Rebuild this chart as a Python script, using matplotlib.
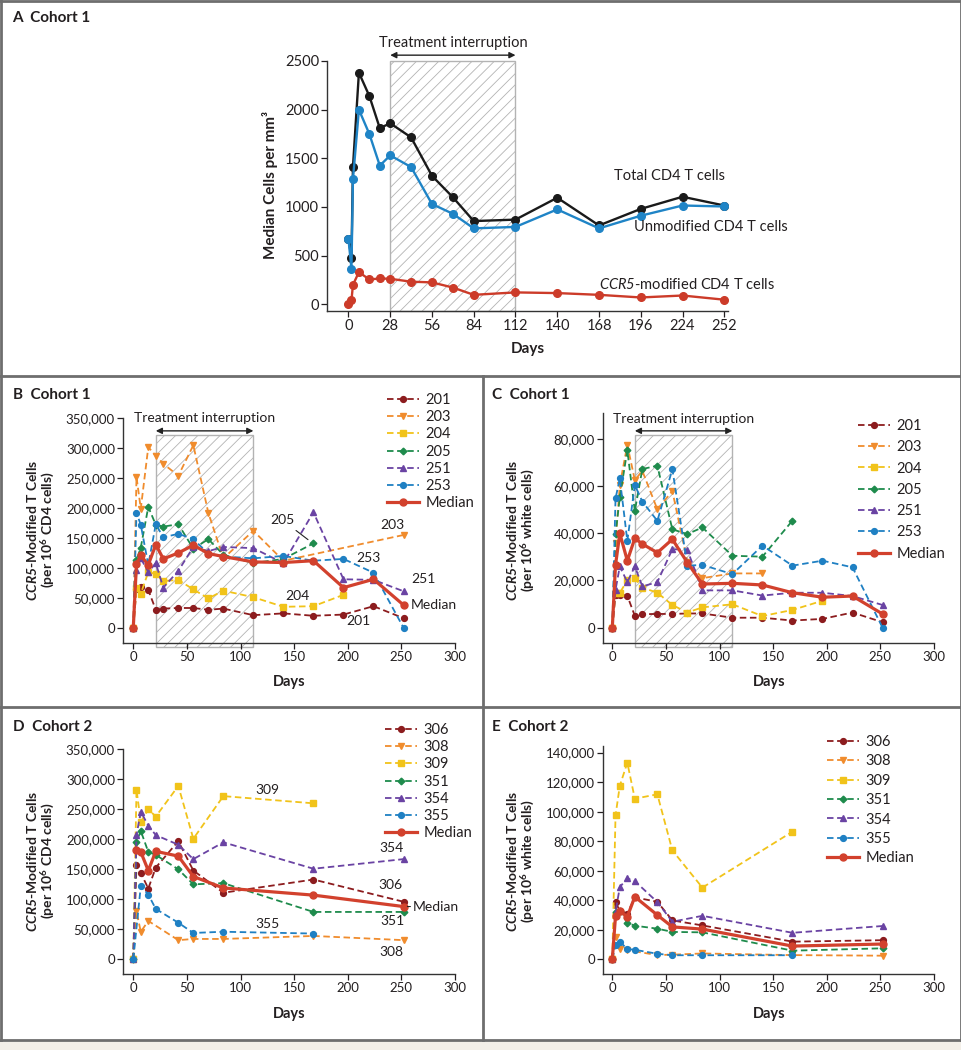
import matplotlib
matplotlib.use("Agg")
import matplotlib.pyplot as plt
from matplotlib.patches import Rectangle
from matplotlib.lines import Line2D
from matplotlib.ticker import FuncFormatter

plt.rcParams['font.family'] = ['Lato', 'DejaVu Sans']
plt.rcParams['mathtext.fontset'] = 'custom'
plt.rcParams['mathtext.rm'] = 'Lato:bold'
plt.rcParams['mathtext.bf'] = 'Lato:italic:bold'
plt.rcParams['mathtext.sf'] = 'Lato:italic'
plt.rcParams['hatch.linewidth'] = 0.6
plt.rcParams['text.color'] = '#231f20'
plt.rcParams['xtick.color'] = '#231f20'
plt.rcParams['ytick.color'] = '#231f20'

# ---- Panel A: cohort 1 medians (cells per mm3)
A_days = [0, 2, 3, 7, 14, 21, 28, 42, 56, 70, 84, 112, 140, 168, 196, 224, 252]
A_total = [670, 480, 1410, 2380, 2140, 1810, 1860, 1715, 1320, 1100, 855, 870, 1095, 810, 980, 1105, 1015]
A_unmod = [670, 365, 1285, 2000, 1750, 1425, 1530, 1410, 1030, 930, 780, 795, 975, 780, 910, 1015, 1005]
A_ccr5 = [0, 40, 200, 330, 255, 265, 262, 232, 225, 172, 97, 122, 115, 97, 70, 90, 47]

# ---- Panels B and C: cohort 1
C1_ids = ['201', '203', '204', '205', '251', '253']
C1_days = [0, 3, 7, 14, 21, 28, 42, 56, 70, 84, 112, 140, 168, 196, 224, 252]
days_203 = [0, 3, 7, 14, 21, 28, 42, 56, 70, 84, 112, 140, 252]
days_203c = [0, 3, 7, 14, 21, 28, 42, 56, 70, 84, 112, 140]
days_204 = [0, 3, 7, 14, 21, 28, 42, 56, 70, 84, 112, 140, 168, 196]
days_205 = [0, 3, 7, 14, 21, 28, 42, 56, 70, 84, 112, 140, 168]

B_201 = [0, 65000, 68000, 63000, 30000, 32000, 33000, 33000, 30000, 32000, 21000, 24000, 20000, 22000, 36000, 16000]
B_203 = [0, 252000, 199000, 302000, 287000, 274000, 254000, 305000, 192000, 116000, 162000, 112000, 155000]
B_204 = [0, 66000, 57000, 93000, 90000, 78000, 80000, 64000, 49000, 62000, 51000, 35000, 36000, 55000]
B_205 = [0, 113000, 134000, 202000, 172000, 169000, 173000, 132000, 148000, 122000, 108000, 115000, 141000]
B_251 = [0, 96000, 116000, 93000, 108000, 67000, 95000, 135000, 128000, 135000, 133000, 108000, 193000, 81000, 80000, 61000]
B_253 = [0, 192000, 172000, 105000, 173000, 151000, 157000, 148000, 124000, 119000, 116000, 120000, 112000, 115000, 92000, 0]
B_median = [0, 107000, 121000, 105000, 139000, 115000, 125000, 138000, 124000, 119000, 110000, 109000, 112000, 67000, 81000, 38000]

C_201 = [0, 14000, 14000, 13500, 5000, 5700, 5800, 5800, 6000, 6000, 4200, 4200, 3000, 3700, 6400, 2300]
C_203 = [0, 36000, 60500, 77500, 62600, 66500, 50200, 58000, 28000, 21000, 23000, 23000]
C_204 = [0, 14800, 14800, 20000, 21000, 17000, 14800, 9600, 6400, 8600, 9900, 4900, 7500, 11400]
C_205 = [0, 39600, 55300, 75300, 49500, 67300, 68700, 41700, 39700, 42500, 30500, 30100, 45400]
C_251 = [0, 16000, 26000, 19300, 26000, 17500, 19300, 33300, 33000, 15800, 15800, 13600, 14800, 14800, 13400, 9600]
C_253 = [0, 54800, 63300, 36800, 60500, 53500, 45300, 67200, 26300, 26600, 22700, 34800, 26300, 28400, 25600, 0]
C_median = [0, 26600, 40000, 28400, 37900, 35500, 31800, 37500, 27600, 18500, 18800, 18100, 14800, 12900, 13400, 5800]

# ---- Panels D and E: cohort 2
C2_ids = ['306', '308', '309', '351', '354', '355']
C2_days = [0, 3, 7, 14, 21, 42, 56, 84, 168, 252]
days_308 = [0, 3, 7, 14, 42, 56, 84, 168, 252]
days_309 = [0, 3, 7, 14, 21, 42, 56, 84, 168]
days_355d = [0, 7, 14, 21, 42, 56, 84, 168]
days_355e = [0, 3, 7, 14, 21, 42, 56, 84, 168]
D_med_days = [3, 7, 14, 21, 42, 56, 84, 168, 252]

D_306 = [0, 157000, 144000, 118000, 153000, 197000, 148000, 111000, 133000, 96000]
D_308 = [0, 80000, 46000, 64000, 32000, 34000, 34000, 39000, 32000]
D_309 = [0, 283000, 229000, 250000, 238000, 289000, 201000, 272000, 260000]
D_351 = [0, 196000, 214000, 179000, 174000, 150000, 125000, 127000, 79000, 79000]
D_354 = [0, 207000, 246000, 223000, 207000, 191000, 167000, 195000, 151000, 167000]
D_355 = [0, 122000, 108000, 84000, 61000, 44000, 46000, 43000]
D_median = [183000, 179000, 148000, 180000, 172000, 138000, 119000, 107000, 88000]

E_306 = [0, 38600, 33000, 31000, 42000, 39000, 26400, 23000, 12000, 13000]
E_308 = [0, 15400, 7200, 6300, 2900, 3200, 4000, 2900, 2500]
E_309 = [0, 97500, 117600, 133200, 108800, 111800, 73800, 48600, 86500]
E_351 = [0, 32000, 33000, 24800, 22800, 20800, 18600, 18300, 5900, 7500]
E_354 = [0, 32000, 49000, 54800, 53000, 38800, 25500, 29500, 18000, 22600]
E_355 = [0, 9500, 12000, 7000, 6500, 3800, 2800, 2800, 2800]
E_median = [0, 29400, 32500, 28900, 42400, 30000, 22000, 20500, 9000, 10400]

COLORS = ['#8c1c1e', '#f08c2d', '#f1c31a', '#1e8b4c', '#6a43a3', '#1f80c3']
MARKERS = ['o', 'v', 's', 'D', '^', 'o']
MEDIAN_COLOR = '#d2412d'
W, H = 962, 1050


def px_rect(left, top, right, bottom):
    # pixel box -> figure fraction [l, b, w, h]
    return [left / W, 1 - bottom / H, (right - left) / W, (bottom - top) / H]


def fx(x):
    return x / W


def fy(y):
    return 1 - y / H


def style_axes(ax, xlim, ylim, xticks, yticks, fs, comma=True):
    for s in ['top', 'right']:
        ax.spines[s].set_visible(False)
    for s in ['left', 'bottom']:
        ax.spines[s].set_color('#333333')
        ax.spines[s].set_linewidth(1.0)
    ax.set_xlim(*xlim)
    ax.set_ylim(*ylim)
    ax.set_xticks(xticks)
    ax.set_yticks(yticks)
    ax.tick_params(direction='out', length=4, width=0.9, labelsize=fs, pad=2)
    if comma:
        ax.yaxis.set_major_formatter(FuncFormatter(lambda v, p: '{:,}'.format(int(v))))
    ax.set_facecolor('none')


def add_interruption(ax, x0, x1, y0, y1, arrow_y, text_y, fs):
    ax.add_patch(Rectangle((x0, y0), x1 - x0, y1 - y0, facecolor='white',
                           edgecolor='#b3b3b3', hatch='///', lw=1.0,
                           zorder=0, clip_on=False))
    ax.annotate('', xy=(x1, arrow_y), xytext=(x0, arrow_y),
                arrowprops=dict(arrowstyle='<|-|>', color='#222222', lw=1.0,
                                shrinkA=0, shrinkB=0, mutation_scale=9),
                annotation_clip=False)
    ax.text((x0 + x1) / 2, text_y, 'Treatment interruption', ha='center',
            va='center', fontsize=fs, clip_on=False)


def plot_cohort(ax, ids, day_lists, value_lists, med_days, med_vals):
    for pid, d, v, c, m in zip(ids, day_lists, value_lists, COLORS, MARKERS):
        ax.plot(d, v, color=c, marker=m, markersize=3.4 if m == 'D' else 4.2,
                lw=1.3, linestyle=(0, (3.6, 2.0)), label=pid, clip_on=False)
    ax.plot(med_days, med_vals, color=MEDIAN_COLOR, lw=2.3, marker='o',
            markersize=5, label='Median', clip_on=False)


def add_legend(ax, left, top, spacing):
    ax.legend(loc='upper left', bbox_to_anchor=(fx(left), fy(top)),
              bbox_transform=ax.figure.transFigure, frameon=False,
              borderpad=0, borderaxespad=0, handlelength=2.2,
              handletextpad=0.45, labelspacing=spacing, fontsize=10.5,
              numpoints=1)


def add_ylabel(fig, x, y, per):
    fig.text(fx(x), fy(y), r'$\mathbf{CCR5}$-Modified T Cells', rotation=90,
             ha='center', va='center', fontsize=10, fontweight='bold')
    fig.text(fx(x + 15), fy(y), '(per 10$^{6}$ ' + per + ')', rotation=90,
             ha='center', va='center', fontsize=10, fontweight='bold')


fig = plt.figure(figsize=(W / 100, H / 100), dpi=100)

# frame lines
frame = dict(color='#6e6e6e', lw=2.0, transform=fig.transFigure)
fig.add_artist(Line2D([fx(1), fx(1)], [fy(0), fy(1040)], **frame))
fig.add_artist(Line2D([fx(961), fx(961)], [fy(0), fy(1040)], **frame))
fig.add_artist(Line2D([0, 1], [fy(1), fy(1)], **frame))
fig.add_artist(Line2D([0, 1], [fy(376), fy(376)], **frame))
fig.add_artist(Line2D([0, 1], [fy(707), fy(707)], **frame))
fig.add_artist(Line2D([fx(483), fx(483)], [fy(376), fy(1040)], **frame))
fig.add_artist(Rectangle((0, 0), 1, fy(1040), facecolor='#f3efe8',
                         edgecolor='none', transform=fig.transFigure))
fig.add_artist(Line2D([0, 1], [fy(1040), fy(1040)], **frame))

# ---------------- Panel A
axA = fig.add_axes(px_rect(327.3, 61, 728, 310.7))
style_axes(axA, (-14.2, 254.5), (-66, 2500), list(range(0, 253, 28)),
           list(range(0, 2501, 500)), 10.5, comma=False)
add_interruption(axA, 28, 112, -66, 2500, 2560, 2690, 10.5)
axA.plot(A_days, A_total, color='#1a1a1a', marker='o', markersize=5.5, lw=1.7)
axA.plot(A_days, A_unmod, color='#1f84c6', marker='o', markersize=5.5, lw=1.7)
axA.plot(A_days, A_ccr5, color='#cc3b29', marker='o', markersize=5.5, lw=1.7)
axA.text(215, 1320, 'Total CD4 T cells', ha='center', va='center', fontsize=10.5)
axA.text(243, 795, 'Unmodified CD4 T cells', ha='center', va='center', fontsize=10.5)
axA.text(227, 206, r'$\mathsf{CCR5}$-modified CD4 T cells', ha='center',
         va='center', fontsize=10.5)
fig.text(fx(12), fy(18), 'A  Cohort 1', fontsize=11, fontweight='bold', va='center')
fig.text(fx(270), fy(185), 'Median Cells per mm³', rotation=90, ha='center',
         va='center', fontsize=11, fontweight='bold')
fig.text(fx(528), fy(349), 'Days', ha='center', va='center', fontsize=11,
         fontweight='bold')

# ---------------- Panel B
axB = fig.add_axes(px_rect(123.3, 418.3, 455, 642.7))
style_axes(axB, (-9.3, 300), (-25000, 350000), list(range(0, 301, 50)),
           list(range(0, 350001, 50000)), 9.5)
add_interruption(axB, 21, 112, -31700, 322000, 329000, 350000, 10)
plot_cohort(axB, C1_ids, [C1_days, days_203, days_204, days_205, C1_days, C1_days],
            [B_201, B_203, B_204, B_205, B_251, B_253], C1_days, B_median)
add_legend(axB, 387, 393, 0.22)
axB.annotate('205', xy=(166, 143000), xytext=(139, 180000), ha='center', va='center',
             fontsize=10, arrowprops=dict(arrowstyle='-', color='#222222', lw=0.8,
                                           shrinkA=2, shrinkB=3))
axB.text(242, 172000, '203', ha='center', va='center', fontsize=10)
axB.text(219, 116000, '253', ha='center', va='center', fontsize=10)
axB.text(259, 82000, '251', ha='left', va='center', fontsize=10)
axB.text(153, 53000, '204', ha='center', va='center', fontsize=10)
axB.text(259, 38000, 'Median', ha='left', va='center', fontsize=10)
axB.text(210, 11000, '201', ha='center', va='center', fontsize=10)
fig.text(fx(13), fy(395), 'B  Cohort 1', fontsize=11, fontweight='bold', va='center')
add_ylabel(fig, 32, 530, 'CD4 cells')
fig.text(fx(289), fy(682), 'Days', ha='center', va='center', fontsize=10.5,
         fontweight='bold')

# ---------------- Panel C
axC = fig.add_axes(px_rect(603.3, 412.7, 934, 642.7))
style_axes(axC, (-8.4, 300), (-6400, 91200), list(range(0, 301, 50)),
           list(range(0, 80001, 20000)), 9.5)
add_interruption(axC, 21, 112, -8050, 81700, 83500, 88500, 10)
plot_cohort(axC, C1_ids, [C1_days, days_203c, days_204, days_205, C1_days, C1_days],
            [C_201, C_203, C_204, C_205, C_251, C_253], C1_days, C_median)
add_legend(axC, 858, 419, 0.5)
fig.text(fx(492), fy(395), 'C  Cohort 1', fontsize=11, fontweight='bold', va='center')
add_ylabel(fig, 512, 530, 'white cells')
fig.text(fx(769), fy(682), 'Days', ha='center', va='center', fontsize=10.5,
         fontweight='bold')

# ---------------- Panel D
axD = fig.add_axes(px_rect(123.3, 749.3, 455, 974))
style_axes(axD, (-9.3, 300), (-24400, 350000), list(range(0, 301, 50)),
           list(range(0, 350001, 50000)), 9.5)
plot_cohort(axD, C2_ids, [C2_days, days_308, days_309, C2_days, C2_days, days_355d],
            [D_306, D_308, D_309, D_351, D_354, D_355], D_med_days, D_median)
add_legend(axD, 385, 723, 0.22)
axD.text(125, 282000, '309', ha='center', va='center', fontsize=10)
axD.text(241, 186000, '354', ha='center', va='center', fontsize=10)
axD.text(240, 124000, '306', ha='center', va='center', fontsize=10)
axD.annotate('Median', xy=(253, 88000), xytext=(261, 88000), ha='left', va='center',
             fontsize=10, arrowprops=dict(arrowstyle='-', color='#222222', lw=0.8,
                                           shrinkA=0, shrinkB=2))
axD.text(242, 64000, '351', ha='center', va='center', fontsize=10)
axD.text(125, 59000, '355', ha='center', va='center', fontsize=10)
axD.text(241, 12000, '308', ha='center', va='center', fontsize=10)
fig.text(fx(13), fy(727), 'D  Cohort 2', fontsize=11, fontweight='bold', va='center')
add_ylabel(fig, 32, 861, 'CD4 cells')
fig.text(fx(289), fy(1014), 'Days', ha='center', va='center', fontsize=10.5,
         fontweight='bold')

# ---------------- Panel E
axE = fig.add_axes(px_rect(603.3, 746, 934, 974))
style_axes(axE, (-8.4, 300), (-9900, 144500), list(range(0, 301, 50)),
           list(range(0, 140001, 20000)), 9.5)
plot_cohort(axE, C2_ids, [C2_days, days_308, days_309, C2_days, C2_days, days_355e],
            [E_306, E_308, E_309, E_351, E_354, E_355], C2_days, E_median)
add_legend(axE, 827, 735, 0.37)
fig.text(fx(492), fy(727), 'E  Cohort 2', fontsize=11, fontweight='bold', va='center')
add_ylabel(fig, 512, 861, 'white cells')
fig.text(fx(769), fy(1014), 'Days', ha='center', va='center', fontsize=10.5,
         fontweight='bold')

fig.savefig('out.png', dpi=100)
